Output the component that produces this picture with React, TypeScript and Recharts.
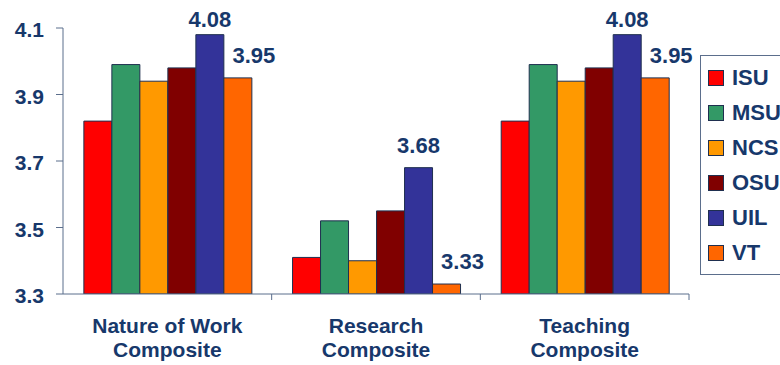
import { BarChart, Bar, XAxis, YAxis, Legend, LabelList } from 'recharts'

const categories = ['Nature of Work Composite', 'Research Composite', 'Teaching Composite']
const schools = ['ISU', 'MSU', 'NCS', 'OSU', 'UIL', 'VT']
const isu = [3.82, 3.41, 3.82]
const msu = [3.99, 3.52, 3.99]
const ncs = [3.94, 3.4, 3.94]
const osu = [3.98, 3.55, 3.98]
const uil = [4.08, 3.68, 4.08]
const vt = [3.95, 3.33, 3.95]
const yTicks = [3.3, 3.5, 3.7, 3.9, 4.1]

const colors = ['#ff0000', '#339966', '#ff9900', '#800000', '#333399', '#ff6600']
const seriesValues = [isu, msu, ncs, osu, uil, vt]

const TEXT = '#17386b'
const AXIS = '#5b6e8c'
const FONT = 'Arial, "Liberation Sans", sans-serif'

const data = categories.map((name, i) => {
  const row: Record<string, string | number> = { name }
  schools.forEach((s, j) => { row[s] = seriesValues[j][i] })
  return row
})

// category label on two lines, tick mark at the right edge of each band
function CategoryTick(props: any) {
  const { x, y, payload } = props
  const words = String(payload.value).split(' ')
  const last = words.pop()
  const half = payload.offset || 0
  return (
    <g>
      <line x1={x + half} y1={y} x2={x + half} y2={y + 6} stroke={AXIS} />
      <text x={x} y={y} textAnchor="middle" fill={TEXT} fontFamily={FONT} fontWeight="bold" fontSize={21}>
        <tspan x={x} dy={39}>{words.join(' ')}</tspan>
        <tspan x={x} dy={24}>{last}</tspan>
      </text>
    </g>
  )
}

function makeLabel(dx: number) {
  return (props: any) => {
    const { x, y, width, value } = props
    const ty = Math.max(y - 15, 27)
    return (
      <text x={x + width / 2 + dx} y={ty} textAnchor="middle" fill={TEXT} fontFamily={FONT} fontWeight="bold" fontSize={22}>
        {Number(value).toFixed(2)}
      </text>
    )
  }
}

function LegendBox(props: any) {
  const { payload } = props
  return (
    <div style={{ border: `1px solid ${AXIS}`, padding: '4px 0 4px 7px', width: 100, boxSizing: 'border-box', background: '#fff' }}>
      {payload.map((p: any) => (
        <div key={p.value} style={{ display: 'flex', alignItems: 'center', height: 35 }}>
          <span style={{ width: 14, height: 14, background: p.color, border: '1px solid #1f2f4f', marginRight: 8 }} />
          <span style={{ color: TEXT, fontFamily: FONT, fontWeight: 'bold', fontSize: 22, lineHeight: '22px' }}>{p.value}</span>
        </div>
      ))}
    </div>
  )
}

export default function App() {
  return (
    <div style={{ position: 'absolute', left: 0, top: 0, width: 780, height: 365, overflow: 'hidden', background: '#fff' }}>
      <BarChart
        width={780}
        height={365}
        data={data}
        margin={{ top: 28, right: 91, left: 0, bottom: 0 }}
        barCategoryGap="10%"
        barGap={0}
      >
        <XAxis
          dataKey="name"
          height={71}
          axisLine={{ stroke: AXIS }}
          tickLine={false}
          tickSize={0}
          tickMargin={0}
          tick={<CategoryTick />}
          interval={0}
        />
        <YAxis
          width={63}
          domain={[3.3, 4.1]}
          ticks={yTicks}
          allowDataOverflow
          tickFormatter={(v: number) => v.toFixed(1)}
          axisLine={{ stroke: AXIS }}
          tickLine={{ stroke: AXIS }}
          tickSize={7}
          tickMargin={12}
          tick={{ fill: TEXT, fontFamily: FONT, fontWeight: 'bold', fontSize: 21, dy: 2 }}
        />
        <Legend
          layout="vertical"
          align="center"
          verticalAlign="middle"
          wrapperStyle={{ left: 700, top: 55, width: 100 }}
          content={<LegendBox />}
        />
        {schools.map((s, i) => (
          <Bar key={s} dataKey={s} fill={colors[i]} stroke="#1f2f4f" strokeWidth={1} isAnimationActive={false}>
            {s === 'UIL' && <LabelList dataKey={s} content={makeLabel(0)} />}
            {s === 'VT' && <LabelList dataKey={s} content={makeLabel(16)} />}
          </Bar>
        ))}
      </BarChart>
    </div>
  )
}
